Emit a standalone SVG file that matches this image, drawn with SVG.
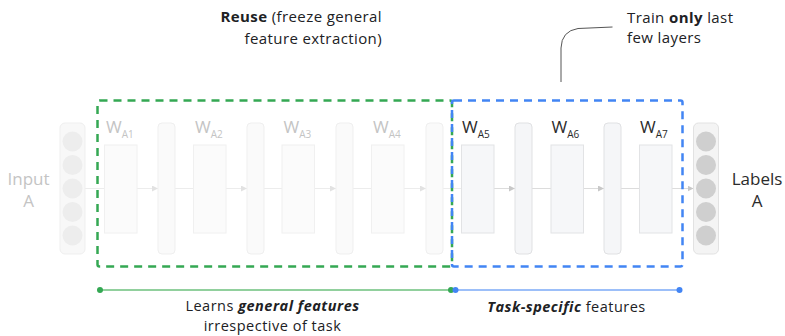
<svg xmlns="http://www.w3.org/2000/svg" width="785" height="336" viewBox="0 0 785 336">
<defs>
<style>
text{font-family:"Open Sans","Liberation Sans",sans-serif;}
.lbl{font-size:15px;fill:#202124;letter-spacing:0.4px;}
.lbl2{font-size:14.5px;fill:#202124;letter-spacing:0.5px;}
.side{font-size:17px;}
.w{font-size:17px;}
.sub{font-size:10px;}
.off{fill:#c4c4c4;}
.on{fill:#2b2b2b;}
.boxOff{fill:#fbfbfb;stroke:#f0f0f0;stroke-width:1;}
.boxOn{fill:#f6f7f9;stroke:#e2e3e5;stroke-width:1;}
.colOff{fill:#fafafa;stroke:#efefef;stroke-width:1;}
.colOn{fill:#f5f6f8;stroke:#e0e1e3;stroke-width:1;}
.link{stroke:#ececec;stroke-width:1;fill:none;}
.linkOn{stroke:#dcdcdc;stroke-width:1;fill:none;}
.green{fill:none;stroke:#34a853;stroke-width:2.5;stroke-dasharray:8 6;}
.blue{fill:none;stroke:#4285f4;stroke-width:2.5;stroke-dasharray:8 6;}
</style>
<marker id="ahOff" viewBox="0 0 6 6" refX="6" refY="3" markerWidth="6" markerHeight="6" orient="auto" markerUnits="userSpaceOnUse"><path d="M0,0 L6,3 L0,6 z" fill="#e2e2e2"/></marker>
<marker id="ahOn" viewBox="0 0 6 6" refX="6" refY="3" markerWidth="6" markerHeight="6" orient="auto" markerUnits="userSpaceOnUse"><path d="M0,0 L6,3 L0,6 z" fill="#c8c8c8"/></marker>
</defs>
<rect width="785" height="336" fill="#ffffff"/>

<g id="connectors">
<line class="link" x1="85" y1="188.5" x2="104.5" y2="188.5"/>
<line class="link" x1="137" y1="188.5" x2="158" y2="188.5" marker-end="url(#ahOff)"/>
<line class="link" x1="175" y1="188.5" x2="193.5" y2="188.5"/>
<line class="link" x1="226" y1="188.5" x2="247" y2="188.5" marker-end="url(#ahOff)"/>
<line class="link" x1="264" y1="188.5" x2="282" y2="188.5"/>
<line class="link" x1="314.5" y1="188.5" x2="336" y2="188.5" marker-end="url(#ahOff)"/>
<line class="link" x1="353" y1="188.5" x2="371.5" y2="188.5"/>
<line class="link" x1="404" y1="188.5" x2="426" y2="188.5" marker-end="url(#ahOff)"/>
<line class="link" x1="443" y1="188.5" x2="461.5" y2="188.5"/>
<line class="linkOn" x1="494" y1="188.5" x2="515" y2="188.5" marker-end="url(#ahOn)"/>
<line class="linkOn" x1="532" y1="188.5" x2="551" y2="188.5"/>
<line class="linkOn" x1="583.5" y1="188.5" x2="604" y2="188.5" marker-end="url(#ahOn)"/>
<line class="linkOn" x1="621" y1="188.5" x2="639.5" y2="188.5"/>
<line class="linkOn" x1="672" y1="188.5" x2="693.5" y2="188.5" marker-end="url(#ahOn)"/>
</g>

<g id="input">
<rect x="60" y="123" width="25" height="131" rx="5" fill="#f8f8f8" stroke="#efefef"/>
<circle cx="72.5" cy="141.5" r="10" fill="#ededed"/>
<circle cx="72.5" cy="165" r="10" fill="#ededed"/>
<circle cx="72.5" cy="188.5" r="10" fill="#ededed"/>
<circle cx="72.5" cy="212" r="10" fill="#ededed"/>
<circle cx="72.5" cy="235.5" r="10" fill="#ededed"/>
<text class="side off" x="28.5" y="185" text-anchor="middle">Input</text>
<text class="side off" x="28.5" y="207" text-anchor="middle">A</text>
</g>

<g id="wA1"><rect class="boxOff" x="104.5" y="145" width="32.5" height="88"/><text class="w off" x="106" y="133">W<tspan class="sub" dy="5">A1</tspan></text></g>
<g id="act1"><rect class="colOff" x="158" y="123" width="17" height="131" rx="4"/></g>
<g id="wA2"><rect class="boxOff" x="193.5" y="145" width="32.5" height="88"/><text class="w off" x="195" y="133">W<tspan class="sub" dy="5">A2</tspan></text></g>
<g id="act2"><rect class="colOff" x="247" y="123" width="17" height="131" rx="4"/></g>
<g id="wA3"><rect class="boxOff" x="282" y="145" width="32.5" height="88"/><text class="w off" x="283.5" y="133">W<tspan class="sub" dy="5">A3</tspan></text></g>
<g id="act3"><rect class="colOff" x="336" y="123" width="17" height="131" rx="4"/></g>
<g id="wA4"><rect class="boxOff" x="371.5" y="145" width="32.5" height="88"/><text class="w off" x="373" y="133">W<tspan class="sub" dy="5">A4</tspan></text></g>
<g id="act4"><rect class="colOff" x="426" y="123" width="17" height="131" rx="4"/></g>
<g id="wA5"><rect class="boxOn" x="461.5" y="145" width="32.5" height="88"/><text class="w on" x="462" y="133">W<tspan class="sub" dy="5">A5</tspan></text></g>
<g id="act5"><rect class="colOn" x="515" y="123" width="17" height="131" rx="4"/></g>
<g id="wA6"><rect class="boxOn" x="551" y="145" width="32.5" height="88"/><text class="w on" x="551.5" y="133">W<tspan class="sub" dy="5">A6</tspan></text></g>
<g id="act6"><rect class="colOn" x="604" y="123" width="17" height="131" rx="4"/></g>
<g id="wA7"><rect class="boxOn" x="639.5" y="145" width="32.5" height="88"/><text class="w on" x="640" y="133">W<tspan class="sub" dy="5">A7</tspan></text></g>

<g id="output">
<rect x="693.5" y="123" width="25" height="131" rx="5" fill="#f4f4f4" stroke="#e2e2e2"/>
<circle cx="706" cy="141.5" r="10" fill="#cfcfcf"/>
<circle cx="706" cy="165" r="10" fill="#cfcfcf"/>
<circle cx="706" cy="188.5" r="10" fill="#cfcfcf"/>
<circle cx="706" cy="212" r="10" fill="#cfcfcf"/>
<circle cx="706" cy="235.5" r="10" fill="#cfcfcf"/>
<text class="side on" x="757" y="185" text-anchor="middle">Labels</text>
<text class="side on" x="757" y="207" text-anchor="middle">A</text>
</g>

<g id="reuse-region">
<rect class="green" x="97.5" y="100.5" width="354.5" height="166" rx="2"/>
<text class="lbl" x="382" y="22" text-anchor="end"><tspan font-weight="bold">Reuse</tspan> (freeze general</text>
<text class="lbl" x="382" y="44" text-anchor="end">feature extraction)</text>
</g>

<g id="train-region">
<rect class="blue" x="452" y="100.5" width="230.5" height="166" rx="2"/>
<path d="M612.5,27 L578,28.5 Q561.5,31 561,48 L561,82" fill="none" stroke="#555" stroke-width="1"/>
<text class="lbl" x="627" y="23">Train <tspan font-weight="bold">only</tspan> last</text>
<text class="lbl" x="627" y="43">few layers</text>
</g>

<g id="general-span">
<line x1="100" y1="290" x2="451" y2="290" stroke="#6cc17d" stroke-width="1.5"/>
<circle cx="100" cy="290" r="3" fill="#34a853"/>
<circle cx="451" cy="290" r="3" fill="#34a853"/>
<text class="lbl2" x="272.5" y="311" text-anchor="middle">Learns <tspan font-weight="bold" font-style="italic">general features</tspan></text>
<text class="lbl2" x="272.5" y="331" text-anchor="middle">irrespective of task</text>
</g>

<g id="specific-span">
<line x1="455.5" y1="290" x2="679.5" y2="290" stroke="#7baaf7" stroke-width="1.5"/>
<circle cx="455.5" cy="290" r="3" fill="#4285f4"/>
<circle cx="679.5" cy="290" r="3" fill="#4285f4"/>
<text class="lbl2" x="566.5" y="312" text-anchor="middle"><tspan font-weight="bold" font-style="italic">Task-specific</tspan> features</text>
</g>
</svg>
